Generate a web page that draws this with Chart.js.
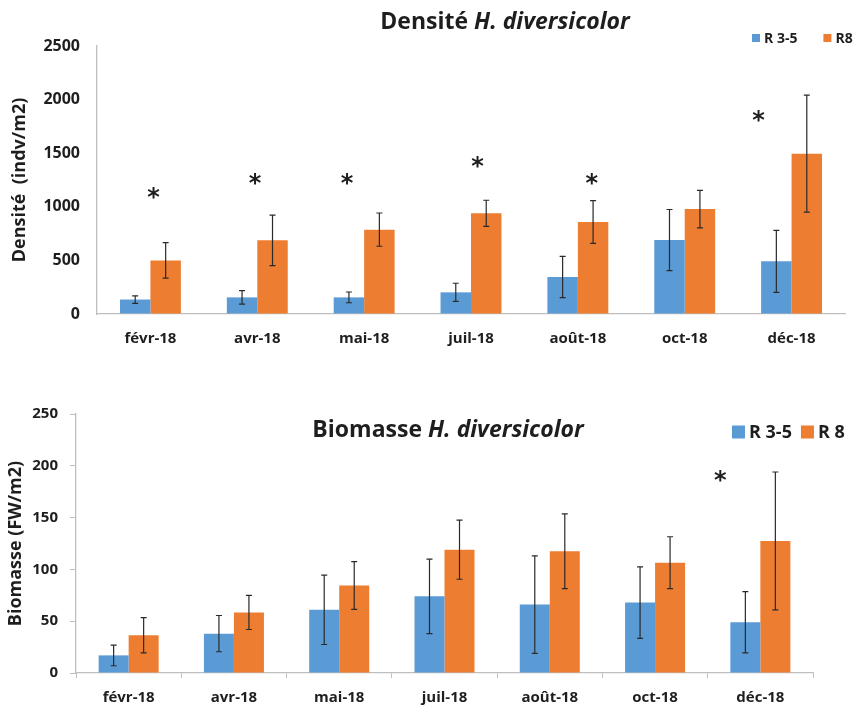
<!DOCTYPE html>
<html>
<head>
<meta charset="utf-8">
<script src="https://cdn.jsdelivr.net/npm/chart.js@4.4.0/dist/chart.umd.min.js"></script>
<style>
  html, body { margin: 0; padding: 0; background: #fff; }
  .box { position: relative; width: 861px; }
</style>
</head>
<body>
<div class="box" style="height:360px"><canvas id="densite"></canvas></div>
<div class="box" style="height:349px"><canvas id="biomasse"></canvas></div>
<script>
const months = ['févr-18', 'avr-18', 'mai-18', 'juil-18', 'août-18', 'oct-18', 'déc-18'];

// Densité (indv/m2)
const densR35 = [135, 155, 155, 202, 345, 690, 491];
const densR35Err = [35, 63, 50, 85, 193, 285, 290];
const densR8 = [500, 687, 787, 939, 858, 979, 1496];
const densR8Err = [165, 235, 155, 122, 200, 175, 545];
const densTicks = [0, 500, 1000, 1500, 2000, 2500];
// significance stars: position in category units, height in data units
const densStarX = [0.03, 0.98, 1.84, 3.06, 4.13, 5.69];
const densStarY = [1110, 1240, 1240, 1400, 1240, 1830];

// Biomasse (FW/m2)
const bioR35 = [17, 38, 61, 74, 66, 68, 49];
const bioR35Err = [10, 17.5, 33.5, 36, 47, 34.5, 29.5];
const bioR8 = [36.5, 58.5, 84.5, 119, 117.5, 106.5, 127.5];
const bioR8Err = [17, 16.5, 23, 28.5, 36, 25, 66.5];
const bioTicks = [0, 50, 100, 150, 200, 250];
const bioStarX = [5.62];
const bioStarY = [188];

const BLUE = '#5b9bd5';
const ORANGE = '#ed7d31';
const INK = '#1e1e1e';
const AXIS = '#bfbfbf';
const FONT = '"Open Sans"';

// draws +/- error whiskers on top of every bar
const errorBars = {
  id: 'errorBars',
  afterDatasetsDraw(chart) {
    const ctx = chart.ctx;
    const y = chart.scales.y;
    chart.data.datasets.forEach((ds, i) => {
      chart.getDatasetMeta(i).data.forEach((bar, j) => {
        const v = ds.data[j], e = ds.errors[j];
        const top = y.getPixelForValue(v + e);
        const bot = y.getPixelForValue(v - e);
        ctx.save();
        ctx.strokeStyle = '#2a2a2a';
        ctx.lineWidth = 1.2;
        ctx.beginPath();
        ctx.moveTo(bar.x, top); ctx.lineTo(bar.x, bot);
        ctx.moveTo(bar.x - 3, top); ctx.lineTo(bar.x + 3, top);
        ctx.moveTo(bar.x - 3, bot); ctx.lineTo(bar.x + 3, bot);
        ctx.stroke();
        ctx.restore();
      });
    });
  }
};

// title (with italic species name), legend and stars
function decorations(o) {
  return {
    id: 'decor',
    afterDraw(chart) {
      const ctx = chart.ctx;
      const xs = chart.scales.x, ys = chart.scales.y;
      ctx.save();
      ctx.fillStyle = INK;

      // title
      const plain = 'bold ' + o.titleSize + 'px ' + FONT;
      const ital = 'italic bold ' + o.titleSize + 'px ' + FONT;
      ctx.font = plain;
      const w1 = ctx.measureText(o.title[0]).width;
      ctx.font = ital;
      const w2 = ctx.measureText(o.title[1]).width;
      const tx = o.titleX - (w1 + w2) / 2;
      ctx.textBaseline = 'middle';
      ctx.textAlign = 'left';
      ctx.font = plain;
      ctx.fillText(o.title[0], tx, o.titleY);
      ctx.font = ital;
      ctx.fillText(o.title[1], tx + w1, o.titleY);

      // legend
      ctx.font = 'bold ' + o.legSize + 'px ' + FONT;
      let lx = o.legX;
      chart.data.datasets.forEach(ds => {
        ctx.fillStyle = ds.backgroundColor;
        ctx.fillRect(lx, o.legY - o.legBox / 2, o.legBox, o.legBox);
        ctx.fillStyle = INK;
        lx += o.legBox + 4;
        ctx.fillText(ds.label, lx, o.legY + 1);
        lx += ctx.measureText(ds.label).width + o.legGap;
      });

      // stars
      ctx.font = 'bold 24px "DejaVu Sans"';
      ctx.textAlign = 'center';
      ctx.textBaseline = 'middle';
      o.starX.forEach((sx, k) => {
        ctx.fillText('*', xs.getPixelForValue(sx), ys.getPixelForValue(o.starY[k]) + 4);
      });
      ctx.restore();
    }
  };
}

function barChart(id, o) {
  return new Chart(document.getElementById(id), {
    type: 'bar',
    data: {
      labels: months,
      datasets: [
        { label: o.names[0], data: o.a, errors: o.aErr, backgroundColor: BLUE },
        { label: o.names[1], data: o.b, errors: o.bErr, backgroundColor: ORANGE }
      ]
    },
    options: {
      responsive: true,
      maintainAspectRatio: false,
      animation: false,
      layout: { padding: { top: o.padTop, right: o.padRight, left: 0, bottom: 0 } },
      datasets: { bar: { categoryPercentage: 0.57, barPercentage: 1 } },
      plugins: { legend: { display: false }, title: { display: false }, tooltip: { enabled: false } },
      scales: {
        x: {
          afterFit: s => { s.height = o.xHeight; },
          grid: { offset: true, drawOnChartArea: false, drawTicks: o.xTicks, tickLength: 5, color: AXIS },
          border: { color: AXIS, width: 1.3 },
          ticks: { color: INK, padding: o.xPad, font: { family: FONT, weight: 'bold', size: 15 } }
        },
        y: {
          min: 0,
          max: o.ticks[o.ticks.length - 1],
          afterFit: s => { s.width = o.yWidth; },
          afterBuildTicks: s => { s.ticks = o.ticks.map(v => ({ value: v })); },
          grid: { drawOnChartArea: false, drawTicks: o.yTicks, tickLength: 6, color: AXIS },
          border: { color: AXIS, width: 1.3 },
          ticks: {
            color: INK, padding: o.yPad,
            font: { family: FONT, weight: 'bold', size: o.tickSize },
            callback: v => String(v)
          },
          title: {
            display: true, text: o.yTitle, color: INK,
            padding: { top: o.yTitlePad, bottom: 0 },
            font: { family: FONT, weight: 'bold', size: o.yTitleSize }
          }
        }
      }
    },
    plugins: [errorBars, decorations(o)]
  });
}

barChart('densite', {
  names: ['R 3-5', 'R8'],
  a: densR35, aErr: densR35Err, b: densR8, bErr: densR8Err,
  ticks: densTicks, starX: densStarX, starY: densStarY,
  yTitle: 'Densité  (indv/m2)', yTitleSize: 18, yTitlePad: 9,
  padTop: 46, padRight: 16, xHeight: 46, yWidth: 97,
  xTicks: false, yTicks: false, xPad: 16, yPad: 17, tickSize: 16,
  title: ['Densité ', 'H. diversicolor'], titleSize: 23, titleX: 505, titleY: 22,
  legX: 752, legY: 38, legBox: 8, legSize: 14, legGap: 26
});

barChart('biomasse', {
  names: ['R 3-5', 'R 8'],
  a: bioR35, aErr: bioR35Err, b: bioR8, bErr: bioR8Err,
  ticks: bioTicks, starX: bioStarX, starY: bioStarY,
  yTitle: 'Biomasse (FW/m2)', yTitleSize: 18, yTitlePad: 5,
  padTop: 54, padRight: 48, xHeight: 36, yWidth: 76,
  xTicks: true, yTicks: true, xPad: 11, yPad: 12, tickSize: 15,
  title: ['Biomasse ', 'H. diversicolor'], titleSize: 23, titleX: 448, titleY: 70,
  legX: 732, legY: 72, legBox: 13, legSize: 18, legGap: 9
});
</script>
</body>
</html>
